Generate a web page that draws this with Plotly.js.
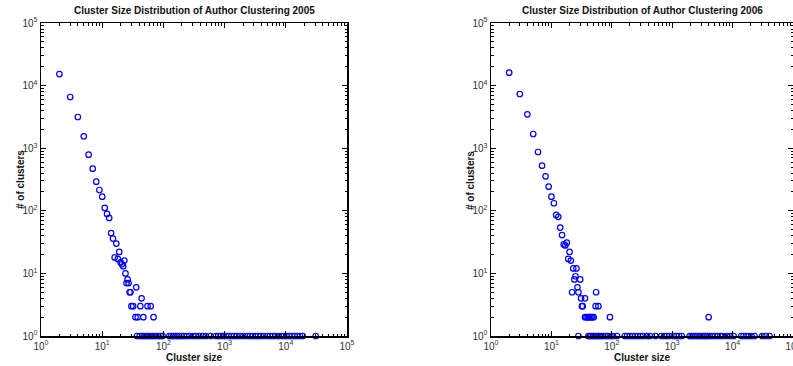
<!DOCTYPE html>
<html><head><meta charset="utf-8">
<script src="https://cdn.plot.ly/plotly-3.0.1.min.js"></script>
<style>html,body{margin:0;padding:0;background:#fff}#chart{width:793px;height:366px}</style>
</head><body><div id="chart"></div>
<script>
// ---- Data: 2005 ----
const sizes2005 = [2,3,4,5,6,7,8,9,10,11,12,13,14,15,16,17,18,19,20,21,22,23,24,25,26,27,28,29,30,32,42,55,62,36,35,38,47,69,44,
  37,41,45,48,52,56,60,65,70,76,83,90,97,125,135,145,157,169,182,199,217,240,265,308,341,387,438,497,592,723,789,861,952,1054,1165,1288,1424,1575,1785,2024,2352,2600,2875,3178,3514,3885,4296,4993,5520,6103,6748,7552,8452,9345,10332,11423,12630,13964,15439,17070,18873,30780];
const counts2005 = [15300,6580,3150,1550,788,471,292,215,168,111,89,77,44,36,18,30,17,22,15,14,13,16,10,7,8,7,5,5,3,3,3,3,3,6,2,2,2,2,4,
  1,1,1,1,1,1,1,1,1,1,1,1,1,1,1,1,1,1,1,1,1,1,1,1,1,1,1,1,1,1,1,1,1,1,1,1,1,1,1,1,1,1,1,1,1,1,1,1,1,1,1,1,1,1,1,1,1,1,1,1,1,1];
// ---- Data: 2006 ----
const sizes2006 = [2,3,4,5,6,7,8,9,10,11,12,13,14,15,16,17,18,19,20,21,22,23,24,25,26,27,28,30,31,32,33,36,54,55,60,36,38,40,42,44,46,48,50,93,4010,
  28,41,43,46,49,52,56,59,63,67,72,79,86,95,105,122,164,179,199,220,243,269,298,329,384,425,527,662,733,811,897,1059,1172,1297,1436,1945,2099,2265,2444,2637,2850,3074,3317,3579,3862,4168,4613,5105,5649,6251,6917,8054,9146,10395,13914,15192,16826,18621,20606,23100,30920,35080,40900];
const counts2006 = [16070,7340,3480,1686,869,525,356,243,168,132,86,80,54,41,29,28,31,17,22,16,5,12,8,9,12,6,5,8,4,3,3,4,3,5,3,2,2,2,2,2,2,2,2,2,2,
  1,1,1,1,1,1,1,1,1,1,1,1,1,1,1,1,1,1,1,1,1,1,1,1,1,1,1,1,1,1,1,1,1,1,1,1,1,1,1,1,1,1,1,1,1,1,1,1,1,1,1,1,1,1,1,1,1,1,1,1,1,1,1];
// ---- Labels ----
const titles = ['Cluster Size Distribution of Author Clustering 2005','Cluster Size Distribution of Author Clustering 2006'];
const decadeVals = [1,10,100,1000,10000,100000];
const decadeText = ['10<sup>0</sup>','10<sup>1</sup>','10<sup>2</sup>','10<sup>3</sup>','10<sup>4</sup>','10<sup>5</sup>'];
const xLabel = 'Cluster size';
const yLabel = '# of clusters';

const FONT = 'Liberation Sans Narrow, Arial Narrow, Liberation Sans, Arial, sans-serif';
const W = 793, H = 366;
const minorVals = [];
for (let k = 0; k < 5; k++) for (let m = 2; m <= 9; m++) minorVals.push(m * Math.pow(10, k));

function ax(domain, title) {
  const a = {
    type: 'log', range: [0, 5], domain: domain,
    showline: true, linecolor: '#000', linewidth: 1.5, mirror: 'allticks',
    ticks: 'inside', ticklen: 5, tickwidth: 1, tickcolor: '#000',
    showgrid: false, zeroline: false,
    tickmode: 'array', tickvals: decadeVals, ticktext: decadeText,
    tickfont: {family: FONT, size: 10, color: '#333'},
    ticklabeloverflow: 'allow',
    minor: {tickmode: 'array', tickvals: minorVals, ticks: 'inside', ticklen: 2.5, tickcolor: '#000', showgrid: false},
    fixedrange: true
  };
  if (title) a.title = {text: '<b>' + title + '</b>', font: {family: FONT, size: 10, color: '#111'}, standoff: 3};
  return a;
}

const marker = {symbol: 'circle-open', size: 5.5, color: '#0000ff', line: {color: '#0000ff', width: 1.2}};
const traces = [
  {x: sizes2005, y: counts2005, type: 'scatter', mode: 'markers', marker: marker, xaxis: 'x', yaxis: 'y', cliponaxis: false, hoverinfo: 'x+y'},
  {x: sizes2006, y: counts2006, type: 'scatter', mode: 'markers', marker: marker, xaxis: 'x2', yaxis: 'y2', cliponaxis: false, hoverinfo: 'x+y'}
];

const yDom = [(H - 336) / H, (H - 23) / H];
const annFont = {family: FONT, size: 10, color: '#111'};
const layout = {
  width: W, height: H, margin: {l: 0, r: 0, t: 0, b: 0},
  paper_bgcolor: '#fff', plot_bgcolor: '#fff', showlegend: false,
  xaxis: Object.assign(ax([41 / W, 347 / W], xLabel), {anchor: 'y'}),
  yaxis: Object.assign(ax(yDom, null), {anchor: 'x'}),
  xaxis2: Object.assign(ax([491 / W, 1], xLabel), {anchor: 'y2'}),
  yaxis2: Object.assign(ax(yDom, null), {anchor: 'x2'}),
  annotations: [
    {text: '<b>' + titles[0] + '</b>', xref: 'paper', yref: 'paper', x: 194 / W, y: (H - 10) / H, xanchor: 'center', yanchor: 'middle', showarrow: false, font: annFont},
    {text: '<b>' + titles[1] + '</b>', xref: 'paper', yref: 'paper', x: 642 / W, y: (H - 10) / H, xanchor: 'center', yanchor: 'middle', showarrow: false, font: annFont},
    {text: '<b>' + yLabel + '</b>', textangle: -90, xref: 'paper', yref: 'paper', x: 20 / W, y: (H - 180) / H, xanchor: 'center', yanchor: 'middle', showarrow: false, font: annFont},
    {text: '<b>' + yLabel + '</b>', textangle: -90, xref: 'paper', yref: 'paper', x: 470 / W, y: (H - 180) / H, xanchor: 'center', yanchor: 'middle', showarrow: false, font: annFont}
  ]
};
Plotly.newPlot('chart', traces, layout, {staticPlot: true, displayModeBar: false});
</script></body></html>
